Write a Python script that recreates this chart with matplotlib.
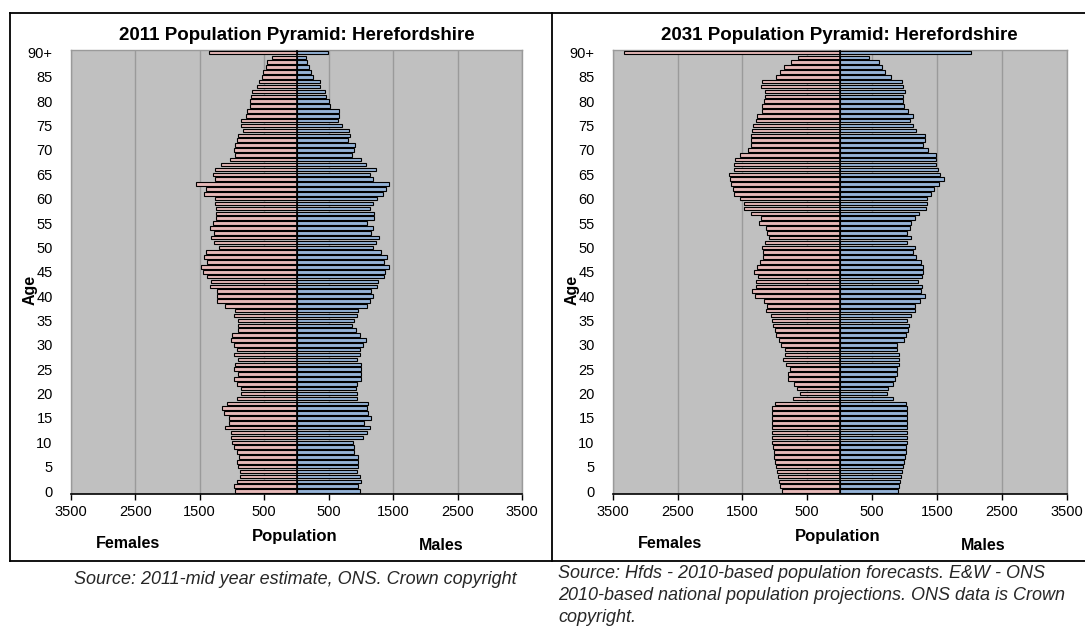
import matplotlib.pyplot as plt
import numpy as np
from matplotlib.lines import Line2D

ages = np.arange(0, 91)
age_ticks = list(range(0, 91, 5))
age_labels = [str(a) for a in age_ticks[:-1]] + ["90+"]
x_ticks = [-3500, -2500, -1500, -500, 500, 1500, 2500, 3500]
x_labels = ["3500", "2500", "1500", "500", "500", "1500", "2500", "3500"]

# 2011 mid-year estimate, ages 0..89 and 90+
females_2011 = [946, 967, 924, 870, 880, 902, 924, 886, 924, 973,
                1000, 1011, 1011, 1114, 1049, 1049, 1120, 1152, 1076, 924,
                859, 859, 924, 967, 902, 967, 946, 902, 967, 924,
                967, 1011, 1000, 902, 902, 902, 967, 946, 1103, 1228,
                1228, 1228, 1342, 1321, 1386, 1457, 1484, 1391, 1429, 1402,
                1201, 1272, 1321, 1272, 1337, 1299, 1245, 1255, 1250, 1266,
                1266, 1429, 1402, 1554, 1266, 1299, 1266, 1163, 1038, 957,
                967, 957, 924, 913, 832, 864, 853, 777, 766, 723,
                723, 707, 696, 614, 576, 533, 522, 467, 456, 375,
                1364]
males_2011 = [984, 957, 1000, 984, 940, 957, 957, 957, 891, 891,
              875, 1027, 1092, 1136, 1054, 1158, 1114, 1092, 1114, 940,
              940, 918, 940, 1000, 1000, 1000, 1000, 940, 984, 984,
              1027, 1071, 984, 918, 853, 891, 940, 957, 1087, 1136,
              1179, 1158, 1245, 1261, 1359, 1370, 1440, 1353, 1397, 1310,
              1190, 1234, 1283, 1152, 1179, 1092, 1196, 1196, 1136, 1179,
              1245, 1337, 1380, 1440, 1179, 1147, 1228, 1071, 1000, 853,
              897, 913, 804, 826, 810, 701, 636, 663, 663, 527,
              511, 457, 446, 364, 359, 255, 228, 196, 170, 140,
              484]

# 2031 projection, ages 0..89 and 90+
females_2031 = [889, 921, 937, 947, 958, 979, 989, 1011, 1011, 1021,
                1042, 1042, 1042, 1042, 1042, 1042, 1042, 1037, 989, 714,
                614, 661, 704, 794, 794, 772, 820, 868, 841, 847,
                899, 942, 979, 995, 1032, 1042, 1053, 1143, 1122, 1169,
                1312, 1344, 1296, 1296, 1265, 1323, 1275, 1222, 1185, 1175,
                1190, 1148, 1095, 1127, 1138, 1238, 1212, 1370, 1476, 1476,
                1529, 1624, 1651, 1672, 1683, 1709, 1630, 1630, 1614, 1540,
                1413, 1370, 1370, 1360, 1349, 1339, 1286, 1275, 1190, 1190,
                1164, 1148, 1148, 1206, 1190, 984, 926, 862, 746, 635,
                3323]
males_2031 = [894, 921, 937, 947, 963, 979, 989, 1005, 1021, 1021,
              1042, 1042, 1042, 1042, 1042, 1042, 1042, 1042, 1021, 831,
              725, 741, 831, 847, 884, 884, 910, 910, 910, 884,
              884, 989, 1021, 1053, 1069, 1042, 1106, 1159, 1159, 1238,
              1317, 1254, 1270, 1217, 1270, 1291, 1291, 1254, 1185, 1127,
              1164, 1042, 1095, 1042, 1085, 1106, 1159, 1228, 1333, 1349,
              1349, 1413, 1455, 1534, 1608, 1545, 1519, 1492, 1481, 1492,
              1370, 1291, 1317, 1317, 1175, 1138, 1085, 1138, 1048, 989,
              979, 979, 1005, 979, 963, 788, 698, 656, 608, 460,
              2026]

titles = ["2011 Population Pyramid: Herefordshire", "2031 Population Pyramid: Herefordshire"]
source_left = "Source: 2011-mid year estimate, ONS. Crown copyright"
source_right = ["Source: Hfds - 2010-based population forecasts. E&W - ONS",
                "2010-based national population projections. ONS data is Crown",
                "copyright."]

plt.rcParams['font.family'] = ['Liberation Sans', 'DejaVu Sans']

W, H = 1085, 626
fig = plt.figure(figsize=(W / 100, H / 100), dpi=100)
fig.patch.set_facecolor("white")


def fx(x):
    return x / W


def fy(y):
    return 1 - y / H


pink = "#E6B9B8"
blue = "#95B3D7"

panels = [
    (70.7, 522.3, females_2011, males_2011, titles[0]),
    (612.7, 1066.5, females_2031, males_2031, titles[1]),
]
ax_top, ax_bot = 49.5, 494

for x0, x1, fem, mal, title in panels:
    ax = fig.add_axes([fx(x0), fy(ax_bot), fx(x1 - x0), (ax_bot - ax_top) / H])
    ax.set_facecolor("#C0C0C0")
    ax.barh(ages, -np.array(fem), height=0.72, color=pink, edgecolor="black",
            linewidth=0.8, zorder=3)
    ax.barh(ages, mal, height=0.72, color=blue, edgecolor="black",
            linewidth=0.8, zorder=3)
    ax.axvline(0, color="black", lw=1.2, zorder=4)
    ax.set_xlim(-3500, 3500)
    ax.set_ylim(-0.6, 90.6)
    ax.set_xticks(x_ticks)
    ax.set_xticklabels(x_labels, fontsize=10.5)
    ax.set_yticks(age_ticks)
    ax.set_yticklabels(age_labels, fontsize=10.5)
    ax.tick_params(axis="y", length=0, pad=13)
    ax.tick_params(axis="x", length=4, width=1, direction="out", pad=4)
    ax.xaxis.grid(True, color="#9A9A9A", lw=1, zorder=0)
    ax.set_axisbelow(True)
    for s in ["left", "top", "right"]:
        ax.spines[s].set_color("#9A9A9A")
        ax.spines[s].set_linewidth(1)
    ax.spines["bottom"].set_color("black")
    ax.spines["bottom"].set_linewidth(1.2)

    cx = (x0 + x1) / 2
    fig.text(fx(cx), fy(35), title, ha="center", va="center",
             fontsize=13.5, fontweight="bold")
    fig.text(fx(cx - 2), fy(536), "Population", ha="center", va="center",
             fontsize=12, fontweight="bold")
    fig.text(fx(x0 + 57), fy(544), "Females", ha="center", va="center",
             fontsize=11.5, fontweight="bold")
    fig.text(fx(x0 + 370), fy(545), "Males", ha="center", va="center",
             fontsize=11.5, fontweight="bold")
    fig.text(fx(x0 - 41), fy(290), "Age", ha="center", va="center",
             rotation=90, fontsize=11.5, fontweight="bold")

# panel borders
lw = 1.3
fig.add_artist(Line2D([fx(10), fx(10)], [fy(12.7), fy(560.5)], color="black", lw=lw))
fig.add_artist(Line2D([fx(10), fx(1085)], [fy(12.7), fy(12.7)], color="black", lw=lw))
fig.add_artist(Line2D([fx(10), fx(1085)], [fy(560.5), fy(560.5)], color="black", lw=lw))
fig.add_artist(Line2D([fx(551.5), fx(551.5)], [fy(12.7), fy(560.5)], color="black", lw=lw))

fig.text(fx(295), fy(580), source_left, ha="center", va="center",
         fontsize=13, style="italic", color="#262626")
for i, line in enumerate(source_right):
    fig.text(fx(558), fy(574 + 22 * i), line, ha="left", va="center",
             fontsize=13, style="italic", color="#262626")

fig.savefig("out.png", dpi=100)
